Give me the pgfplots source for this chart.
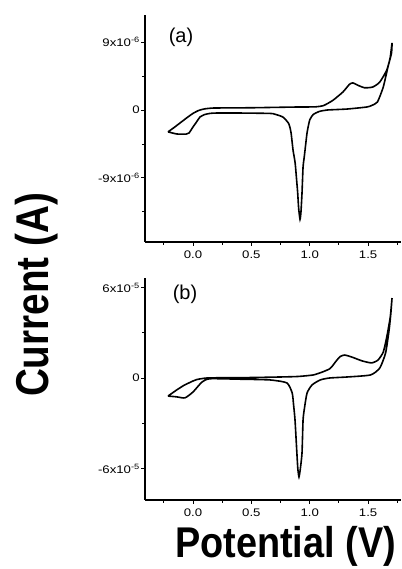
\documentclass[border=0pt]{standalone}
\usepackage{fontspec}
\setmainfont{Liberation Sans}
\newfontfamily\tickfont[FakeStretch=1.2]{Liberation Sans}
\newfontfamily\labfont[FakeStretch=0.84]{Liberation Sans}
\newfontfamily\potfont[FakeStretch=0.88]{Liberation Sans}
\usepackage{pgfplots}
\pgfplotsset{compat=1.18}

\pgfplotsset{cvaxis/.style={
  scale only axis, anchor=south west, width=256pt,
  xmin=-0.411, xmax=1.782,
  axis x line*=bottom, axis y line*=left,
  xtick={0,0.5,1,1.5}, xticklabels={0.0,0.5,1.0,1.5},
  minor xtick={-0.25,0.25,0.75,1.25,1.75},
  tick align=outside, major tick length=4pt, minor tick length=3pt,
  axis line style={line width=1.7pt},
  every tick/.style={line width=0.9pt, black},
  ticklabel style={font=\tickfont\fontsize{11}{11}\selectfont},
  xticklabel style={yshift=-1pt},
  yticklabel style={inner sep=1pt},
  clip=false,
}}

\begin{document}
\begin{tikzpicture}[x=1pt,y=1pt]
\begin{axis}[cvaxis, at={(145pt,327pt)}, height=227pt,
  ymin=-17.5, ymax=12.6,
  ytick={-9,0,9}, minor ytick={-13.5,-4.5,4.5},
  yticklabels={-9x10\textsuperscript{-6},0,9x10\textsuperscript{-6}}]
\addplot[black, line width=1.6pt, smooth, tension=0.35] coordinates {
(-0.214,-2.9) (-0.16,-2.3) (-0.111,-1.72) (-0.05,-1.0) (0.0,-0.45) (0.05,-0.05)
(0.10,0.15) (0.17,0.26) (0.3,0.28) (0.5,0.3) (0.7,0.35) (0.9,0.4) (1.05,0.42)
(1.12,0.6) (1.2,1.3) (1.285,2.4) (1.34,3.4) (1.37,3.6) (1.41,3.3) (1.47,2.95)
(1.54,3.05) (1.60,3.7) (1.66,5.3) (1.69,7.0) (1.705,8.9)
(1.70,7.5) (1.67,5.7) (1.63,3.05) (1.58,1.06) (1.53,0.6) (1.49,0.4) (1.32,0.13)
(1.15,0.0) (1.08,-0.2) (1.03,-0.6) (1.0,-1.32) (0.977,-3.05) (0.955,-6.0)
(0.943,-7.55) (0.934,-11.0) (0.925,-13.5) (0.917,-14.5) (0.905,-13.0)
(0.897,-11.0) (0.89,-9.67) (0.875,-7.0) (0.857,-5.3) (0.84,-3.0) (0.82,-1.8)
(0.77,-0.93) (0.70,-0.55) (0.66,-0.45) (0.4,-0.4) (0.2,-0.4) (0.146,-0.45)
(0.10,-0.6) (0.06,-0.93) (0.03,-1.6) (0.0,-2.25) (-0.034,-3.05) (-0.06,-3.2)
(-0.137,-3.18) (-0.214,-2.9)};
\end{axis}

\begin{axis}[cvaxis, at={(145pt,69pt)}, height=222pt,
  ymin=-8.09, ymax=6.63,
  ytick={-6,0,6}, minor ytick={-3,3},
  yticklabels={-6x10\textsuperscript{-5},0,6x10\textsuperscript{-5}}]
\addplot[black, line width=1.6pt, smooth, tension=0.35] coordinates {
(-0.214,-1.2) (-0.15,-0.85) (-0.08,-0.5) (0.0,-0.2) (0.034,-0.1) (0.12,0.0)
(0.3,0.02) (0.5,0.03) (0.746,0.066) (0.9,0.1) (1.03,0.2) (1.11,0.4) (1.17,0.6)
(1.19,0.75) (1.22,1.06) (1.26,1.42) (1.30,1.52) (1.36,1.39) (1.45,1.13)
(1.53,1.0) (1.585,1.19) (1.63,1.72) (1.66,2.72) (1.69,4.04) (1.705,5.3)
(1.695,4.3) (1.68,3.18) (1.65,1.66) (1.60,0.66) (1.52,0.2) (1.32,0.066)
(1.17,0.0) (1.09,-0.13) (1.02,-0.46) (0.977,-1.0) (0.955,-2.0) (0.943,-2.78)
(0.934,-4.97) (0.92,-6.0) (0.908,-6.56) (0.898,-6.0) (0.89,-4.97) (0.874,-2.78)
(0.862,-1.8) (0.85,-1.0) (0.805,-0.33) (0.66,-0.13) (0.4,-0.08) (0.146,-0.05)
(0.077,-0.27) (0.0,-0.93) (-0.069,-1.32) (-0.14,-1.25) (-0.214,-1.2)};
\end{axis}

\node[font=\fontsize{20}{20}\selectfont, inner sep=0pt] at (181pt,531.5pt) {(a)};
\node[font=\fontsize{20}{20}\selectfont, inner sep=0pt] at (185pt,274.5pt) {(b)};
\node[font=\labfont\bfseries\fontsize{46}{46}\selectfont, rotate=90, anchor=base, inner sep=0pt] at (48pt,274pt) {Current (A)};
\node[font=\potfont\bfseries\fontsize{43}{43}\selectfont, anchor=base west, inner sep=0pt] at (175pt,11pt) {Potential (V)};

\pgfresetboundingbox
\useasboundingbox (0,0) rectangle (401pt,569pt);
\end{tikzpicture}
\end{document}
